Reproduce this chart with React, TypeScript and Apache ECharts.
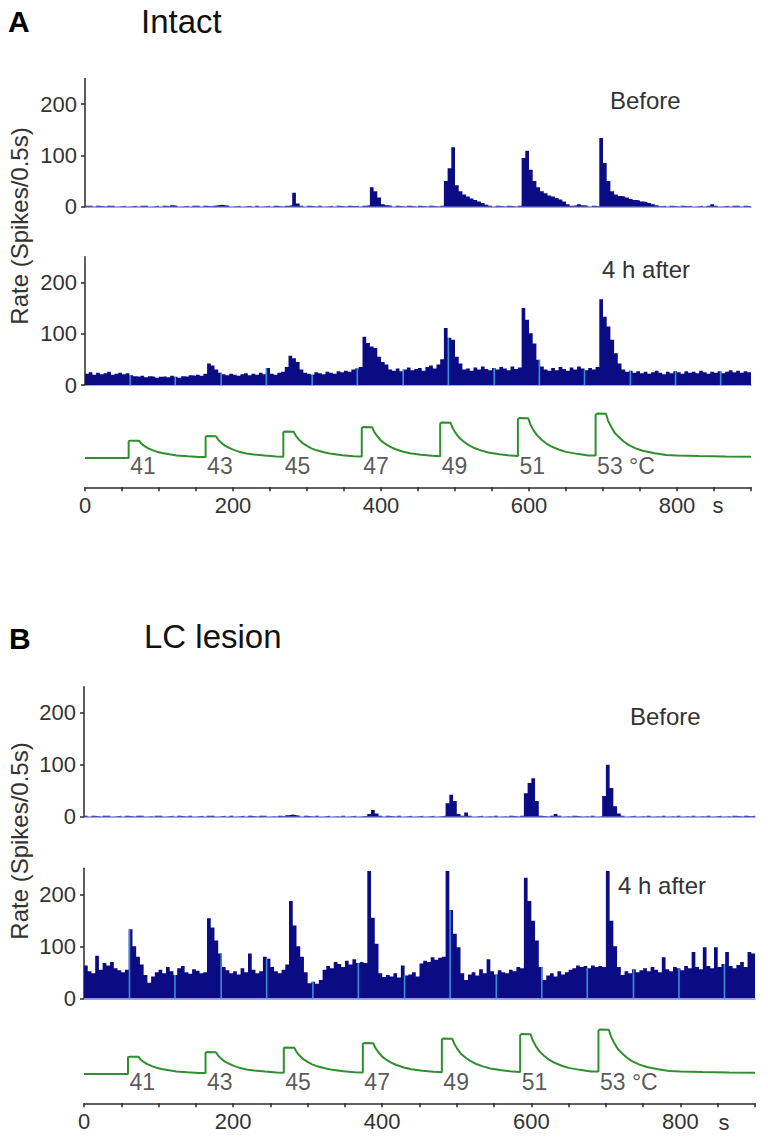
import React, { useEffect, useRef } from 'react';
import * as echarts from 'echarts';

// ---------- data ----------
const BIN_SECONDS = 5;
const X_MAX = 900;
const X_LABEL_TICKS = [0, 200, 400, 600, 800];
const Y_TICKS = [0, 100, 200];

// Spike rate (spikes / 0.5 s), 5-s bins from 0 to 895 s
const A_BEFORE = [
  2, 2, 0, 2, 1, 0, 2, 2, 0, 1,
  2, 0, 1, 2, 0, 2, 2, 0, 1, 2,
  0, 2, 1, 3, 2, 0, 1, 2, 0, 2,
  2, 0, 2, 1, 2, 3, 4, 3, 2, 0,
  1, 2, 0, 1, 2, 0, 2, 0, 1, 2,
  0, 2, 1, 0, 2, 3, 27, 6, 2, 0,
  2, 1, 0, 2, 0, 1, 2, 0, 2, 1,
  0, 2, 1, 2, 0, 2, 3, 38, 30, 18,
  5, 3, 2, 0, 2, 1, 0, 2, 1, 0,
  2, 1, 0, 2, 1, 0, 2, 50, 75, 116,
  42, 30, 24, 20, 16, 13, 10, 7, 4, 2,
  0, 2, 1, 0, 2, 1, 0, 2, 95, 109,
  72, 50, 38, 30, 26, 22, 20, 17, 14, 10,
  5, 2, 3, 5, 3, 2, 0, 2, 1, 134,
  85, 50, 30, 24, 21, 20, 18, 15, 13, 12,
  10, 9, 7, 5, 3, 1, 2, 0, 2, 1,
  0, 2, 1, 2, 0, 1, 2, 0, 2, 5,
  2, 0, 1, 2, 0, 2, 2, 0, 2, 1,
];

const A_AFTER = [
  22, 25, 20, 24, 21, 23, 26, 20, 22, 24,
  21, 23, 19, 17, 16, 18, 15, 17, 16, 14,
  16, 17, 15, 18, 16, 14, 17, 16, 19, 18,
  20, 18, 22, 42, 38, 30, 24, 21, 19, 22,
  20, 18, 21, 23, 19, 22, 20, 24, 21, 33,
  22, 20, 24, 26, 35, 57, 52, 45, 30, 24,
  22, 20, 25, 23, 21, 26, 24, 22, 27, 25,
  28, 26, 30, 32, 35, 94, 82, 75, 72, 55,
  45, 40, 30, 28, 32, 27, 30, 34, 29, 31,
  33, 28, 35, 38, 32, 40, 50, 111, 92, 88,
  55, 42, 30, 32, 28, 34, 30, 36, 31, 29,
  33, 30, 35, 32, 29, 36, 31, 34, 150, 127,
  101, 81, 49, 36, 30, 28, 33, 29, 35, 31,
  28, 34, 30, 36, 32, 29, 33, 30, 35, 167,
  133, 114, 88, 62, 42, 30, 26, 28, 24, 27,
  23, 26, 22, 25, 28, 24, 21, 26, 23, 27,
  25, 22, 27, 24, 26, 23, 28, 25, 22, 26,
  24, 27, 23, 26, 29, 25, 28, 24, 27, 25,
];

const B_BEFORE = [
  2, 0, 2, 1, 0, 2, 2, 0, 1, 2,
  0, 2, 1, 0, 2, 2, 0, 1, 0, 2,
  2, 0, 1, 2, 0, 2, 1, 0, 2, 0,
  1, 2, 0, 2, 2, 0, 1, 2, 0, 2,
  0, 1, 2, 0, 2, 1, 0, 2, 2, 0,
  1, 0, 2, 1, 3, 4, 3, 2, 0, 2,
  1, 0, 2, 0, 1, 2, 0, 1, 0, 2,
  0, 1, 2, 0, 1, 2, 5, 13, 6, 2,
  0, 2, 1, 0, 2, 0, 1, 2, 0, 1,
  2, 0, 1, 2, 0, 1, 2, 26, 42, 30,
  5, 2, 8, 2, 0, 1, 2, 0, 1, 0,
  2, 0, 1, 0, 2, 1, 0, 2, 45, 65,
  74, 30, 2, 1, 0, 2, 5, 2, 0, 1,
  0, 2, 1, 0, 1, 0, 2, 0, 1, 40,
  100, 55, 20, 6, 2, 0, 1, 2, 0, 1,
  0, 2, 0, 1, 0, 2, 0, 1, 0, 2,
  0, 1, 0, 2, 0, 1, 0, 2, 0, 1,
  2, 0, 1, 0, 2, 1, 0, 2, 1, 2,
];

const B_AFTER = [
  63, 52, 48, 82, 55, 68, 63, 70, 58, 54,
  50, 55, 133, 100, 80, 65, 45, 30, 42, 50,
  55, 48, 60, 52, 45, 58, 62, 50, 47, 56,
  53, 48, 50, 154, 136, 111, 86, 60, 54, 48,
  52, 46, 58, 50, 86, 55, 48, 52, 80, 76,
  60, 52, 48, 55, 65, 187, 140, 100, 80, 50,
  29, 32, 28, 35, 55, 62, 58, 70, 66, 60,
  72, 65, 75, 68, 70, 68, 245, 155, 105, 48,
  41, 45, 42, 48, 40, 63, 44, 46, 50, 42,
  67, 72, 70, 79, 74, 78, 80, 245, 170, 124,
  98, 48, 35, 46, 50, 44, 56, 48, 75, 52,
  46, 54, 50, 48, 55, 52, 60, 58, 232, 187,
  149, 111, 60, 35, 44, 48, 42, 52, 46, 50,
  55, 58, 63, 60, 62, 58, 63, 60, 62, 60,
  245, 149, 100, 60, 45, 52, 48, 56, 50, 54,
  58, 52, 60, 55, 50, 79, 56, 52, 60, 58,
  54, 62, 58, 89, 60, 56, 98, 62, 58, 98,
  60, 66, 89, 62, 58, 64, 70, 60, 89, 86,
];

// Times (s) of the lighter bins visible inside the "4 h after" histograms
const LIGHT_BIN_TIMES = [61, 122, 184, 245, 307, 368, 430, 491, 553, 614, 675, 737, 798, 859];

// Skin temperature trace, [time s, temperature °C]
const TEMP_TRACE = [
  [0, 33.3], [59, 33.3],
  [59, 41.0], [61, 41.2], [73, 41.2], [76, 39.9], [80, 38.8], [85, 37.8], [91, 36.9], [97, 36.2], [104, 35.6], [114, 35.0], [124, 34.5], [139, 34.1], [154, 33.8], [163, 33.8],
  [163, 43.0], [165, 43.3], [177, 43.2], [180, 41.6], [184, 40.3], [189, 38.9], [195, 37.9], [201, 37.0], [208, 36.2], [218, 35.4], [228, 34.9], [243, 34.4], [258, 34.0], [268, 33.9],
  [268, 45.0], [270, 45.4], [282, 45.2], [285, 43.4], [289, 41.7], [294, 40.1], [300, 38.8], [306, 37.7], [313, 36.8], [323, 35.9], [333, 35.2], [348, 34.6], [363, 34.1], [374, 34.0],
  [374, 47.0], [376, 47.4], [388, 47.3], [391, 45.1], [395, 43.2], [400, 41.2], [406, 39.7], [412, 38.5], [419, 37.4], [429, 36.3], [439, 35.5], [454, 34.8], [469, 34.3], [480, 34.1],
  [480, 49.0], [482, 49.5], [494, 49.3], [497, 46.8], [501, 44.6], [506, 42.4], [512, 40.7], [518, 39.3], [525, 38.0], [535, 36.8], [545, 35.8], [560, 35.0], [575, 34.4], [585, 34.2],
  [585, 51.0], [587, 51.5], [599, 51.4], [602, 48.5], [606, 46.0], [611, 43.6], [617, 41.6], [623, 40.0], [630, 38.6], [640, 37.2], [650, 36.1], [665, 35.2], [680, 34.5], [690, 34.4],
  [690, 53.0], [692, 53.6], [704, 53.4], [707, 50.2], [711, 47.5], [716, 44.7], [722, 42.6], [728, 40.8], [735, 39.2], [745, 37.6], [755, 36.5], [770, 35.5], [785, 34.7], [800, 34.4], [830, 34.2], [865, 34.0], [900, 33.9],
];
const PULSE_TIMES = [59, 163, 268, 374, 480, 585, 690];
const PULSE_LABELS = ['41', '43', '45', '47', '49', '51', '53 °C'];
const BASE_TEMP = 33.3;

// ---------- styling ----------
const FONT = "'Liberation Sans', Arial, Helvetica, sans-serif";
const NAVY = '#0b0b84';
const LIGHT_BLUE = '#3b8ed8';
const BASELINE = '#8088d8';
const GREEN = '#2f8f2f';
const AXIS = '#2a2a2a';
const TEXT = '#333333';

function histData(vals: number[]) {
  const d: number[][] = vals.map((v, i) => [i * BIN_SECONDS, v]);
  d.push([X_MAX, vals[vals.length - 1]]);
  return d;
}
function lightData(vals: number[]) {
  return LIGHT_BIN_TIMES.map((t) => [t, vals[Math.floor(t / BIN_SECONDS)]]);
}

type PanelLayout = {
  left: number; right: number;
  beforeTop: number; afterTop: number; histH: number;
  tempTop: number; tempH: number;
};

const PANEL_A: PanelLayout = { left: 85, right: 17, beforeTop: 78.5, afterTop: 256.8, histH: 128.2, tempTop: 403.7, tempH: 83.6 };
const PANEL_B: PanelLayout = { left: 84, right: 13, beforeTop: 686.7, afterTop: 868.3, histH: 130, tempTop: 1019.7, tempH: 83.6 };

function buildOption() {
  const grids: any[] = [];
  const xAxes: any[] = [];
  const yAxes: any[] = [];
  const series: any[] = [];

  const histX = (gi: number) => ({
    type: 'value', gridIndex: gi, min: 0, max: X_MAX,
    axisLine: { show: true, onZero: false, lineStyle: { color: BASELINE, width: 1.5 } },
    axisTick: { show: false }, axisLabel: { show: false }, splitLine: { show: false },
  });
  const histY = (gi: number) => ({
    type: 'value', gridIndex: gi, min: 0, max: 250,
    axisLine: { show: true, lineStyle: { color: AXIS, width: 1.5 } },
    axisTick: { show: true, inside: false, length: 4, customValues: Y_TICKS, lineStyle: { color: AXIS, width: 1.5 } },
    axisLabel: {
      show: true, customValues: Y_TICKS, fontSize: 22, color: TEXT, fontFamily: FONT, margin: 8,
      formatter: (v: number) => (v > 200 ? '' : String(v)),
    },
    splitLine: { show: false },
  });

  const addPanel = (p: PanelLayout, before: number[], after: number[]) => {
    const g0 = grids.length;
    grids.push({ left: p.left, right: p.right, top: p.beforeTop, height: p.histH, outerBoundsMode: 'none' });
    grids.push({ left: p.left, right: p.right, top: p.afterTop, height: p.histH, outerBoundsMode: 'none' });
    grids.push({ left: p.left, right: p.right, top: p.tempTop, height: p.tempH, outerBoundsMode: 'none' });
    xAxes.push(histX(g0));
    xAxes.push(histX(g0 + 1));
    xAxes.push({
      type: 'value', gridIndex: g0 + 2, min: 0, max: X_MAX, interval: 50,
      axisLine: { show: true, onZero: false, lineStyle: { color: AXIS, width: 1.5 } },
      axisTick: { show: true, inside: false, length: 4, lineStyle: { color: AXIS, width: 1.5 } },
      axisLabel: { show: true, customValues: X_LABEL_TICKS, fontSize: 22, color: TEXT, fontFamily: FONT, margin: 7,
        formatter: (v: number) => (v % 200 === 0 && v <= 800 ? String(v) : '') },
      splitLine: { show: false },
    });
    yAxes.push(histY(g0));
    yAxes.push(histY(g0 + 1));
    yAxes.push({ type: 'value', gridIndex: g0 + 2, min: 20, max: 58, show: false, splitLine: { show: false } });

    const hist = (idx: number, vals: number[]) => ({
      type: 'line', xAxisIndex: idx, yAxisIndex: idx, step: 'end', symbol: 'none', silent: true,
      data: histData(vals), lineStyle: { width: 0, color: NAVY }, itemStyle: { color: NAVY },
      areaStyle: { color: NAVY, opacity: 1 }, z: 3,
    });
    series.push(hist(g0, before));
    series.push(hist(g0 + 1, after));
    series.push({
      type: 'bar', xAxisIndex: g0 + 1, yAxisIndex: g0 + 1, data: lightData(after), barWidth: 1.6,
      itemStyle: { color: LIGHT_BLUE }, silent: true, z: 4,
    });
    series.push({
      type: 'line', xAxisIndex: g0 + 2, yAxisIndex: g0 + 2, data: TEMP_TRACE, symbol: 'none', silent: true,
      lineStyle: { color: GREEN, width: 2 }, itemStyle: { color: GREEN }, z: 3,
    });
    series.push({
      type: 'scatter', xAxisIndex: g0 + 2, yAxisIndex: g0 + 2, symbolSize: 1, silent: true,
      data: PULSE_TIMES.map((t) => [t, BASE_TEMP]),
      itemStyle: { color: 'rgba(0,0,0,0)' },
      label: {
        show: true, position: [2, 8], align: 'left', verticalAlign: 'middle',
        fontSize: 23, color: '#2e2e2e', fontFamily: FONT,
        formatter: (prm: any) => PULSE_LABELS[prm.dataIndex],
      },
      z: 5,
    });
  };

  addPanel(PANEL_A, A_BEFORE, A_AFTER);
  addPanel(PANEL_B, B_BEFORE, B_AFTER);

  const txt = (text: string, x: number, y: number, size: number, opts: any = {}) => ({
    type: 'text', x, y, rotation: opts.rotation || 0, silent: true,
    style: {
      text, fontSize: size, fontFamily: FONT, fontWeight: opts.bold ? 'bold' : 'normal',
      fill: opts.color || TEXT, align: opts.align || 'left', verticalAlign: 'middle',
    },
  });

  const graphic = [
    txt('A', 8, 21, 30, { bold: true, color: '#000' }),
    txt('Intact', 141, 21, 33, { color: '#111' }),
    txt('Before', 610, 100, 24),
    txt('4 h after', 602, 269, 24),
    txt('Rate (Spikes/0.5s)', 19, 226, 24, { rotation: Math.PI / 2, align: 'center' }),
    txt('s', 718, 505, 22, { align: 'center' }),
    txt('B', 9, 638, 30, { bold: true, color: '#000' }),
    txt('LC lesion', 144, 636, 33, { color: '#111' }),
    txt('Before', 630, 716, 24),
    txt('4 h after', 618, 885, 24),
    txt('Rate (Spikes/0.5s)', 19, 841, 24, { rotation: Math.PI / 2, align: 'center' }),
    txt('s', 724, 1122, 22, { align: 'center' }),
  ];

  return {
    animation: false,
    backgroundColor: '#ffffff',
    grid: grids,
    xAxis: xAxes,
    yAxis: yAxes,
    series,
    graphic,
  };
}

export default function App() {
  const ref = useRef<HTMLDivElement>(null);
  useEffect(() => {
    if (!ref.current) return;
    const chart = echarts.init(ref.current, undefined, { renderer: 'svg' });
    chart.setOption(buildOption() as any);
    return () => chart.dispose();
  }, []);
  return (
    <div
      ref={ref}
      style={{ position: 'absolute', left: 0, top: 0, width: 768, height: 1139, background: '#fff' }}
    />
  );
}
